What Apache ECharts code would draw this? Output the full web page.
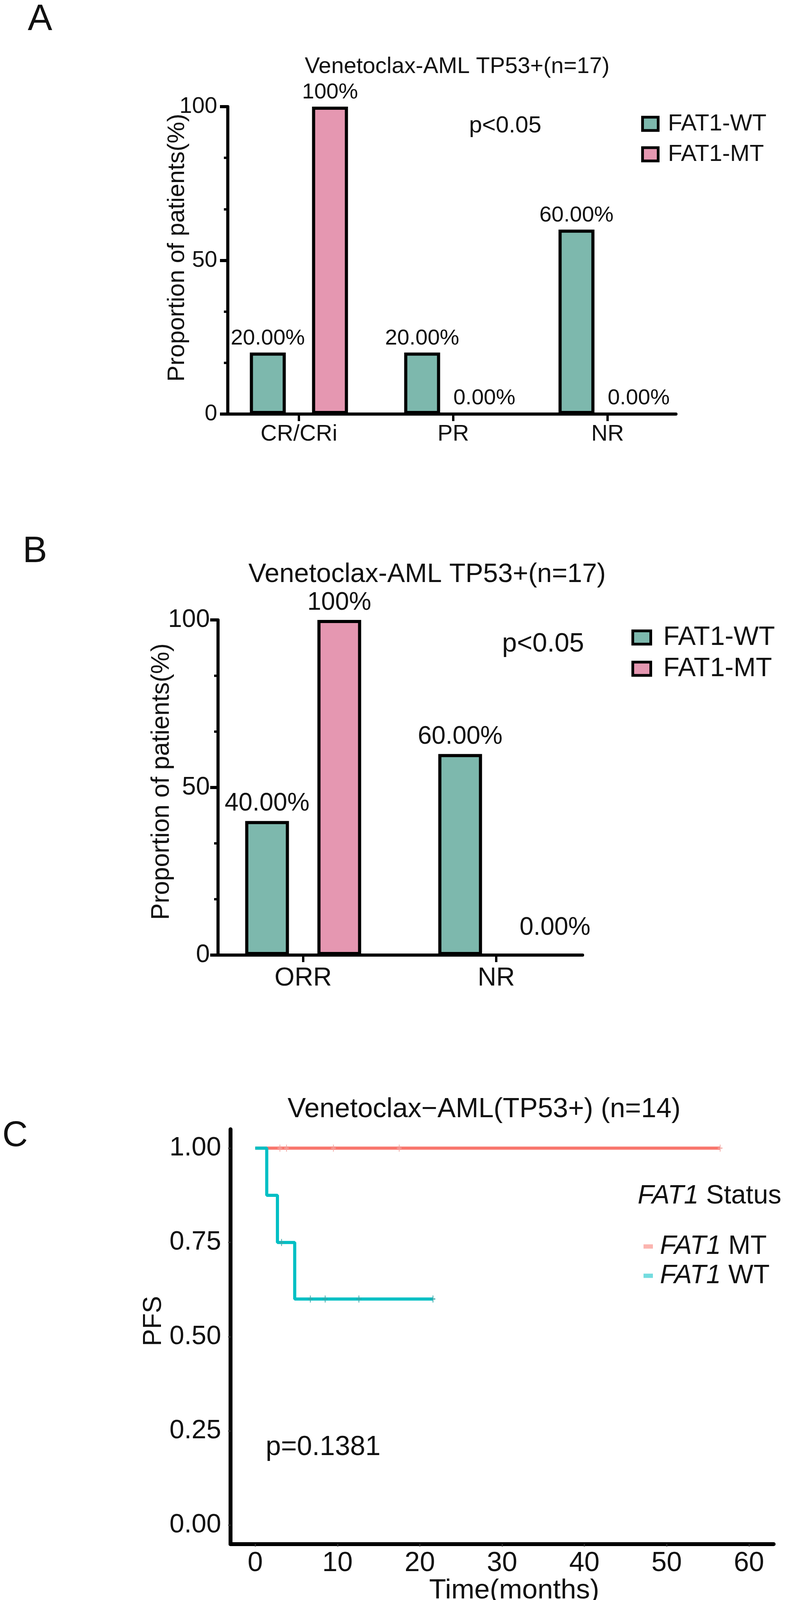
<!DOCTYPE html>
<html>
<head>
<meta charset="utf-8">
<title>FAT1 status and venetoclax response, TP53+ AML</title>
<script src="https://cdn.jsdelivr.net/npm/echarts@6/dist/echarts.min.js"></script>
<style>
html, body { margin: 0; padding: 0; background: #fff; }
#main { width: 2027px; height: 4125px; }
</style>
</head>
<body>
<div id="main"></div>
<script>
// panel A: response by category
var catsA = ['CR/CRi', 'PR', 'NR'];
var wtA = [20, 20, 60];
var mtA = [100, 0, 0];
var wtLabelsA = ['20.00%', '20.00%', '60.00%'];
var mtLabelsA = ['100%', '0.00%', '0.00%'];

// panel B: ORR vs NR
var catsB = ['ORR', 'NR'];
var wtB = [40, 60];
var mtB = [100, 0];
var wtLabelsB = ['40.00%', '60.00%'];
var mtLabelsB = ['100%', '0.00%'];

// panel C: Kaplan-Meier PFS (months)
var wtTime = [0, 1.4, 2.7, 4.8, 21.6];
var wtSurv = [1, 0.875, 0.75, 0.6, 0.6];
var wtCensorTime = [3.2, 6.7, 8.5, 12.6, 21.6];
var wtCensorSurv = [0.75, 0.6, 0.6, 0.6, 0.6];
var mtTime = [0, 56.5];
var mtSurv = [1, 1];
var mtCensorTime = [3.0, 3.8, 9.5, 17.5, 56.5];
var mtCensorSurv = [1, 1, 1, 1, 1];
var xTicksC = [0, 10, 20, 30, 40, 50, 60];
var yTicksC = [0, 0.25, 0.5, 0.75, 1];

var FONT = "'Liberation Sans', Arial, sans-serif";
var INK = '#111';
var TEAL = '#7db8ad';
var PINK = '#e597b1';
var KM_MT = '#f8766d';
var KM_WT = '#00bfc4';

function pairs(xs, ys) {
    return xs.map(function (x, i) { return [x, ys[i]]; });
}
function indexed(vals) {
    return vals.map(function (v, i) { return [i, v]; });
}

function txt(x, y, text, size, extra) {
    var el = {
        type: 'text', x: x, y: y,
        style: {
            text: text, fontSize: size, fontFamily: FONT, fill: INK,
            align: 'center', textAlign: 'center',
            verticalAlign: 'middle', textVerticalAlign: 'middle'
        }
    };
    if (extra) {
        if (extra.rotation) el.rotation = extra.rotation;
        if (extra.align) { el.style.align = extra.align; el.style.textAlign = extra.align; }
        if (extra.rich) el.style.rich = extra.rich;
    }
    return el;
}

function barYAxis(grid, fs, margin) {
    return {
        type: 'value', gridIndex: grid, min: 0, max: 100, interval: 50,
        axisLine: { show: true, onZero: false, lineStyle: { color: '#000', width: 8 } },
        axisTick: { show: true, length: 20, lineStyle: { color: '#000', width: 8 } },
        minorTick: { show: true, splitNumber: 3, length: 10, lineStyle: { color: '#000', width: 6 } },
        splitLine: { show: false },
        minorSplitLine: { show: false },
        axisLabel: { fontSize: fs, fontFamily: FONT, color: INK, margin: margin }
    };
}

function barXAxis(grid, cats, min, max, fs, margin) {
    var ticks = cats.map(function (c, i) { return i; });
    return {
        type: 'value', gridIndex: grid, min: min, max: max,
        axisLine: { show: true, onZero: false, lineStyle: { color: '#000', width: 8 } },
        axisTick: { show: true, customValues: ticks, length: 18, lineStyle: { color: '#000', width: 6 } },
        axisLabel: {
            customValues: ticks, fontSize: fs, fontFamily: FONT, color: INK, margin: margin,
            formatter: function (v) { return cats[Math.round(v)]; }
        },
        splitLine: { show: false },
        minorTick: { show: false }
    };
}

function barSeries(name, grid, vals, labels, color, width, gap, fs, dist) {
    return {
        type: 'bar', name: name, xAxisIndex: grid, yAxisIndex: grid,
        data: indexed(vals), barWidth: width, barGap: gap,
        itemStyle: { color: color, borderColor: '#000', borderWidth: 8 },
        label: {
            show: true, position: 'top', distance: dist,
            fontSize: fs, fontFamily: FONT, color: INK,
            formatter: function (p) { return labels[p.dataIndex]; }
        }
    };
}

var mtSeriesB = barSeries('FAT1-MT', 1, mtB, mtLabelsB, PINK, 112, '65%', 64, 12);
// the 0.00% label in panel B sits to the right of its (empty) bar
mtSeriesB.data[1] = { value: mtSeriesB.data[1], label: { offset: [58, -22] } };

var italic = { i: { fontStyle: 'italic', fontSize: 68, fontFamily: FONT, color: INK } };

var option = {
    backgroundColor: '#fff',
    animation: false,
    grid: [
        { left: 583, top: 273, width: 1147, height: 787 },
        { left: 558, top: 1587, width: 933, height: 858 },
        { left: 590, top: 2891, width: 1390, height: 1062 }
    ],
    xAxis: [
        barXAxis(0, catsA, -0.4608, 2.443, 58, 23),
        barXAxis(1, catsB, -0.441, 1.447, 66, 27),
        {
            type: 'value', gridIndex: 2, min: -3, max: 63,
            axisLine: { show: true, onZero: false, lineStyle: { color: '#000', width: 10 } },
            axisTick: { show: true, customValues: xTicksC, length: 6, lineStyle: { color: '#333', width: 3 } },
            axisLabel: { customValues: xTicksC, fontSize: 70, fontFamily: FONT, color: INK, margin: 15 },
            splitLine: { show: false }
        }
    ],
    yAxis: [
        barYAxis(0, 58, 27),
        barYAxis(1, 64, 21),
        {
            type: 'value', gridIndex: 2, min: -0.05, max: 1.05,
            axisLine: { show: true, onZero: false, lineStyle: { color: '#000', width: 10 } },
            axisTick: { show: true, customValues: yTicksC, length: 6, lineStyle: { color: '#333', width: 3 } },
            axisLabel: {
                customValues: yTicksC, fontSize: 68, fontFamily: FONT, color: INK, margin: 24,
                padding: [0, 0, 34, 0],
                formatter: function (v) { return v.toFixed(2); }
            },
            splitLine: { show: false }
        }
    ],
    legend: [
        {
            left: 1636, top: 282, orient: 'vertical', selectedMode: false,
            data: ['FAT1-WT', 'FAT1-MT'], icon: 'rect',
            itemWidth: 40, itemHeight: 34, itemGap: 18,
            itemStyle: { borderColor: '#000', borderWidth: 7 },
            textStyle: { fontSize: 60, fontFamily: FONT, color: INK, padding: [0, 0, 0, 20] }
        },
        {
            left: 1611, top: 1593, orient: 'vertical', selectedMode: false,
            data: ['FAT1-WT', 'FAT1-MT'], icon: 'rect',
            itemWidth: 46, itemHeight: 34, itemGap: 12,
            itemStyle: { borderColor: '#000', borderWidth: 7 },
            textStyle: { fontSize: 68, fontFamily: FONT, color: INK, padding: [0, 0, 0, 27] }
        },
        {
            left: 1642, top: 3152, orient: 'vertical', selectedMode: false,
            data: ['FAT1 MT', 'FAT1 WT'], icon: 'rect',
            itemWidth: 24, itemHeight: 11, itemGap: 7,
            itemStyle: { opacity: 0.55 },
            formatter: function (n) { return '{i|FAT1} ' + n.split(' ')[1]; },
            textStyle: { fontSize: 68, fontFamily: FONT, color: INK, padding: [0, 0, 0, 13], rich: italic }
        }
    ],
    graphic: { elements: [
        txt(71, 51, 'A', 94, { align: 'left' }),
        txt(1170, 171, 'Venetoclax-AML TP53+(n=17)', 58),
        txt(1293, 322, 'p<0.05', 60),
        txt(454, 634, 'Proportion of patients(%)', 62, { rotation: Math.PI / 2 }),

        txt(58, 1413, 'B', 94, { align: 'left' }),
        txt(1093, 1471, 'Venetoclax-AML TP53+(n=17)', 68),
        txt(1390, 1649, 'p<0.05', 68),
        txt(414, 2001, 'Proportion of patients(%)', 64, { rotation: Math.PI / 2 }),

        txt(6, 2909, 'C', 90, { align: 'left' }),
        txt(1239, 2841, 'Venetoclax\u2212AML(TP53+) (n=14)', 70),
        txt(1632, 3062, '{i|FAT1} Status', 68, { align: 'left', rich: italic }),
        txt(394, 3382, 'PFS', 66, { rotation: Math.PI / 2 }),
        txt(827, 3706, 'p=0.1381', 70),
        txt(1316, 4072, 'Time(months)', 71)
    ] },
    series: [
        barSeries('FAT1-WT', 0, wtA, wtLabelsA, TEAL, 92, '73%', 56, 8),
        barSeries('FAT1-MT', 0, mtA, mtLabelsA, PINK, 92, '73%', 56, 8),
        barSeries('FAT1-WT', 1, wtB, wtLabelsB, TEAL, 112, '65%', 64, 12),
        mtSeriesB,
        {
            type: 'line', name: 'FAT1 MT', xAxisIndex: 2, yAxisIndex: 2,
            step: 'end', data: pairs(mtTime, mtSurv), symbol: 'none', showSymbol: false,
            lineStyle: { color: KM_MT, width: 8 }, itemStyle: { color: KM_MT }, z: 2
        },
        {
            type: 'line', name: 'FAT1 WT', xAxisIndex: 2, yAxisIndex: 2,
            step: 'end', data: pairs(wtTime, wtSurv), symbol: 'none', showSymbol: false,
            lineStyle: { color: KM_WT, width: 8 }, itemStyle: { color: KM_WT }, z: 3
        },
        {
            type: 'scatter', name: 'MT censored', xAxisIndex: 2, yAxisIndex: 2,
            data: pairs(mtCensorTime, mtCensorSurv),
            symbol: 'path://M0,-1L0,1M-1,0L1,0', symbolSize: [12, 18],
            itemStyle: { color: 'rgba(0,0,0,0)', borderColor: '#f2a7a2', borderWidth: 3 }, z: 4
        },
        {
            type: 'scatter', name: 'WT censored', xAxisIndex: 2, yAxisIndex: 2,
            data: pairs(wtCensorTime, wtCensorSurv),
            symbol: 'path://M0,-1L0,1M-1,0L1,0', symbolSize: [12, 18],
            itemStyle: { color: 'rgba(0,0,0,0)', borderColor: '#3aa6a8', borderWidth: 3 }, z: 4
        }
    ]
};

var chart = echarts.init(document.getElementById('main'));
chart.setOption(option);
</script>
</body>
</html>
